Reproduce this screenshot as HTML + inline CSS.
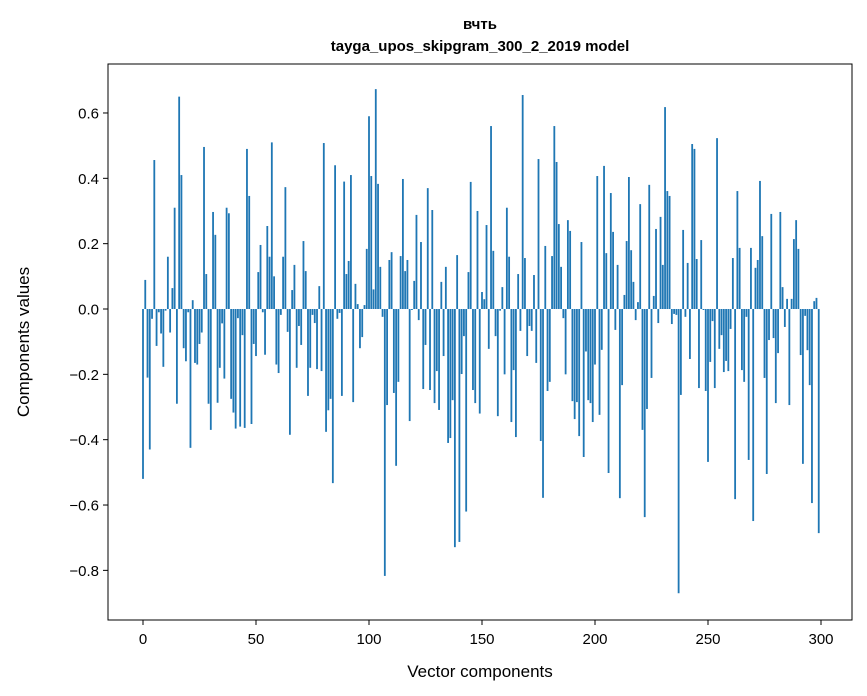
<!DOCTYPE html>
<html><head><meta charset="utf-8"><style>
html,body{margin:0;padding:0;background:#fff}
svg{display:block;font-family:"Liberation Sans","DejaVu Sans",sans-serif}
</style></head><body>
<svg id="chart" width="867" height="696" viewBox="0 0 867 696" xmlns="http://www.w3.org/2000/svg">
<rect x="0" y="0" width="867" height="696" fill="#fff"/>
<text x="480" y="29" text-anchor="middle" font-size="15" font-weight="bold" font-family="Liberation Sans, DejaVu Sans, sans-serif">вчть</text>
<text x="480" y="51" text-anchor="middle" font-size="15" font-weight="bold">tayga_upos_skipgram_300_2_2019 model</text>
<g id="bars"></g>
<g id="axes"></g>
<rect x="108" y="64" width="744" height="556" fill="none" stroke="#000" stroke-width="1"/>
<text x="480" y="677" text-anchor="middle" font-size="17">Vector components</text>
<text transform="translate(29,342) rotate(-90)" text-anchor="middle" font-size="17">Components values</text>
</svg>
<script>
const values = [
-0.52,0.089,-0.21,-0.43,-0.03,0.456,-0.113,-0.01,-0.075,-0.177,
-0.005,0.16,-0.072,0.064,0.31,-0.29,0.65,0.41,-0.12,-0.16,
-0.01,-0.425,0.027,-0.165,-0.17,-0.107,-0.072,0.496,0.107,-0.29,
-0.37,0.297,0.227,-0.287,-0.18,-0.044,-0.213,0.31,0.293,-0.275,
-0.317,-0.366,-0.028,-0.36,-0.08,-0.364,0.49,0.346,-0.352,-0.107,
-0.144,0.113,0.196,-0.01,-0.14,0.254,0.16,0.51,0.1,-0.17,
-0.196,-0.018,0.16,0.373,-0.07,-0.385,0.058,0.135,-0.18,-0.052,
-0.11,0.208,0.116,-0.266,-0.18,-0.018,-0.043,-0.184,0.07,-0.19,
0.508,-0.376,-0.31,-0.275,-0.533,0.44,-0.03,-0.012,-0.266,0.39,
0.107,0.147,0.41,-0.285,0.077,0.015,-0.12,-0.086,0.012,0.184,
0.59,0.407,0.06,0.673,0.383,0.129,-0.024,-0.817,-0.294,0.15,
0.174,-0.257,-0.48,-0.223,0.162,0.398,0.116,0.15,-0.343,-0.003,
0.086,0.288,-0.034,0.205,-0.245,-0.11,0.37,-0.248,0.303,-0.288,
-0.19,-0.309,0.083,-0.144,0.129,-0.41,-0.395,-0.279,-0.729,0.165,
-0.713,-0.199,-0.083,-0.62,0.113,0.389,-0.248,-0.288,0.3,-0.32,
0.052,0.03,0.257,-0.122,0.56,0.178,-0.083,-0.328,-0.005,0.067,
-0.2,0.31,0.16,-0.346,-0.187,-0.392,0.107,-0.067,0.655,0.156,
-0.144,-0.052,-0.067,0.104,-0.165,0.459,-0.404,-0.578,0.193,-0.251,
-0.223,0.162,0.56,0.45,0.26,0.129,-0.028,-0.2,0.272,0.239,
-0.282,-0.337,-0.285,-0.389,0.205,-0.453,-0.13,-0.279,-0.288,-0.346,
-0.17,0.407,-0.324,-0.125,0.438,0.171,-0.502,0.355,0.236,-0.064,
0.135,-0.579,-0.233,0.043,0.208,0.404,0.18,0.083,-0.034,0.021,
0.321,-0.37,-0.637,-0.306,0.38,-0.211,0.04,0.245,-0.043,0.282,
0.135,0.618,0.361,0.346,-0.046,-0.015,-0.018,-0.87,-0.263,0.242,
-0.024,0.141,-0.153,0.505,0.49,0.153,-0.242,0.211,-0.003,-0.251,
-0.468,-0.162,-0.037,-0.242,0.523,-0.122,-0.08,-0.193,-0.159,-0.19,
-0.061,0.156,-0.582,0.361,0.187,-0.187,-0.223,-0.024,-0.462,0.187,
-0.649,0.126,0.15,0.392,0.223,-0.211,-0.505,-0.095,0.291,-0.089,
-0.288,-0.135,0.297,0.067,-0.055,0.031,-0.294,0.031,0.214,0.272,
0.184,-0.141,-0.474,-0.021,-0.126,-0.233,-0.594,0.024,0.034,-0.686
];
const xTicks = [0,50,100,150,200,250,300];
const yTicks = [-0.8,-0.6,-0.4,-0.2,0.0,0.2,0.4,0.6];
const yTickLabels = ["\u22120.8","\u22120.6","\u22120.4","\u22120.2","0.0","0.2","0.4","0.6"];

const NS = "http://www.w3.org/2000/svg";
function xs(v){ return 143 + v * 2.26; }
function ys(v){ return 309 - v * 326.7; }
const barW = 0.8 * 2.26;
const bars = document.getElementById('bars');
values.forEach(function(v, i){
  const r = document.createElementNS(NS, 'rect');
  const y0 = ys(0), y1 = ys(v);
  r.setAttribute('x', xs(i) - barW/2);
  r.setAttribute('y', Math.min(y0, y1));
  r.setAttribute('width', barW);
  r.setAttribute('height', Math.max(Math.abs(y1 - y0), 0.3));
  r.setAttribute('fill', '#1f77b4');
  
  
  bars.appendChild(r);
});
const axes = document.getElementById('axes');
xTicks.forEach(function(t){
  const l = document.createElementNS(NS, 'line');
  l.setAttribute('x1', xs(t)); l.setAttribute('x2', xs(t));
  l.setAttribute('y1', 620); l.setAttribute('y2', 625);
  l.setAttribute('stroke', '#000');
  
  
  axes.appendChild(l);
  const tx = document.createElementNS(NS, 'text');
  tx.setAttribute('x', xs(t)); tx.setAttribute('y', 644);
  tx.setAttribute('text-anchor', 'middle'); tx.setAttribute('font-size', '15');
  tx.textContent = String(t);
  
  
  axes.appendChild(tx);
});
yTicks.forEach(function(t, k){
  const l = document.createElementNS(NS, 'line');
  l.setAttribute('x1', 103); l.setAttribute('x2', 108);
  l.setAttribute('y1', ys(t)); l.setAttribute('y2', ys(t));
  l.setAttribute('stroke', '#000');
  
  
  axes.appendChild(l);
  const tx = document.createElementNS(NS, 'text');
  tx.setAttribute('x', 99); tx.setAttribute('y', ys(t) + 5.5);
  tx.setAttribute('text-anchor', 'end'); tx.setAttribute('font-size', '15');
  tx.textContent = yTickLabels[k];
  
  
  axes.appendChild(tx);
});
</script>
</body></html>
